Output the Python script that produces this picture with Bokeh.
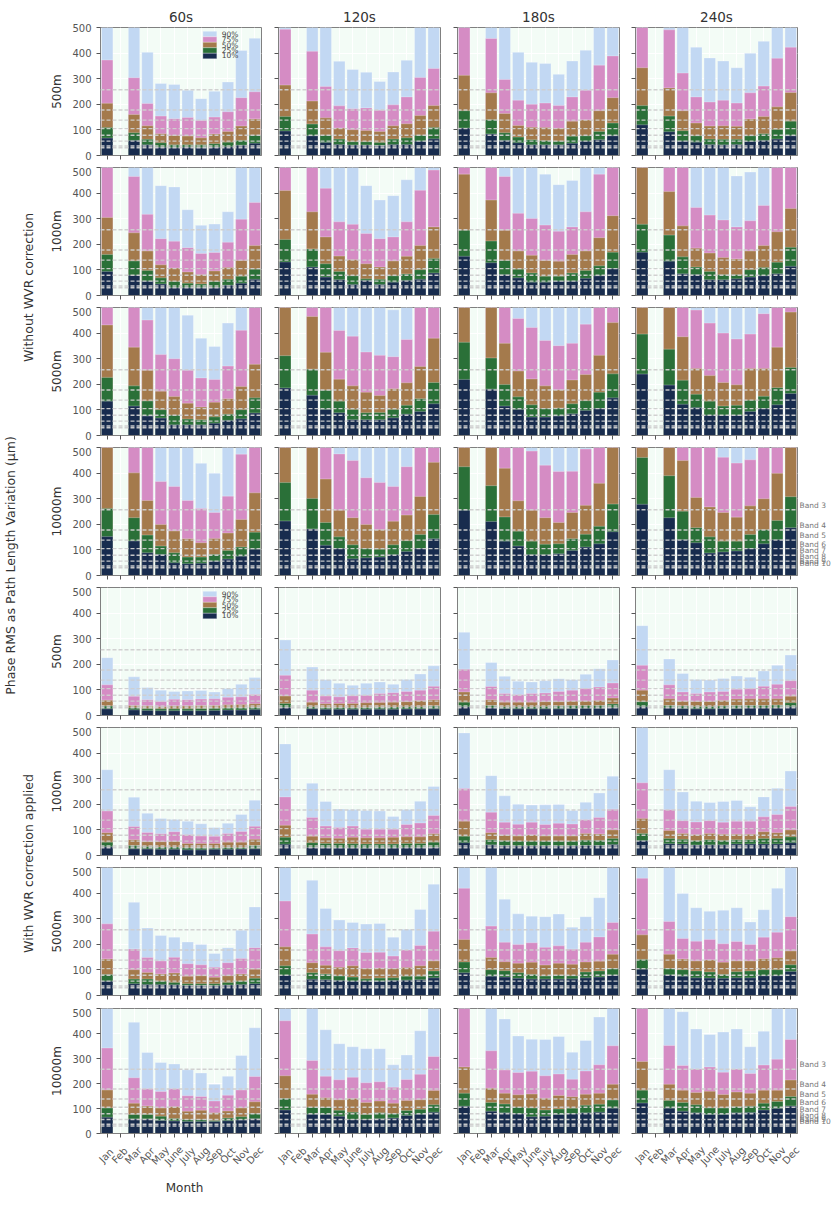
import math

from bokeh.core.properties import value
from bokeh.embed import file_html
from bokeh.layouts import column, row
from bokeh.models import CustomLabelingPolicy, FactorRange, FixedTicker, Label, Range1d, Span
from bokeh.plotting import figure
from bokeh.resources import INLINE

months = ["Jan", "Feb", "Mar", "Apr", "May", "June", "July", "Aug", "Sep", "Oct", "Nov", "Dec"]
percentiles = ["90%", "75%", "50%", "25%", "10%"]
band_names = ["Band 3", "Band 4", "Band 5", "Band 6", "Band 7", "Band 8", "Band 9", "Band 10"]
band_limits = [257, 178, 138, 105, 79, 56, 37, 30]
y_ticks = [0, 100, 200, 300, 400, 500]
integrations = ["60s", "120s", "180s", "240s"]
baselines = ["500m", "1000m", "5000m", "10000m"]

# each panel: 90, 75, 50, 25, 10 percentile per month, no data in Feb, 530 = off the top of the axis
raw_500_60 = [
    [530, 0, 530, 403, 281, 277, 255, 222, 251, 287, 410, 458],
    [373, 0, 304, 203, 154, 144, 148, 137, 150, 171, 226, 249],
    [204, 0, 160, 116, 85, 78, 76, 69, 84, 94, 115, 143],
    [109, 0, 89, 63, 50, 42, 42, 42, 46, 52, 59, 79],
    [68, 0, 59, 42, 32, 30, 32, 30, 32, 34, 40, 48],
]
raw_500_120 = [
    [530, 0, 530, 530, 368, 336, 325, 289, 326, 372, 530, 530],
    [493, 0, 407, 270, 194, 183, 186, 177, 198, 229, 305, 340],
    [275, 0, 213, 147, 107, 101, 98, 94, 116, 124, 156, 195],
    [152, 0, 123, 79, 64, 54, 54, 51, 64, 69, 79, 109],
    [96, 0, 77, 51, 43, 41, 41, 39, 43, 43, 56, 65],
]
raw_500_180 = [
    [530, 0, 530, 530, 403, 364, 359, 317, 369, 411, 530, 530],
    [530, 0, 457, 297, 216, 200, 205, 195, 229, 255, 353, 389],
    [313, 0, 245, 164, 117, 110, 109, 106, 134, 139, 175, 226],
    [175, 0, 140, 89, 72, 62, 58, 56, 75, 77, 94, 127],
    [107, 0, 84, 59, 50, 42, 42, 42, 48, 56, 62, 77],
]
raw_500_240 = [
    [530, 0, 510, 530, 423, 381, 369, 343, 399, 446, 530, 530],
    [530, 0, 491, 322, 229, 209, 216, 205, 245, 271, 380, 423],
    [343, 0, 264, 175, 127, 115, 116, 114, 143, 152, 190, 246],
    [195, 0, 154, 97, 77, 64, 63, 63, 77, 85, 102, 134],
    [120, 0, 93, 56, 52, 43, 42, 43, 55, 59, 64, 77],
]
raw_1000_60 = [
    [530, 0, 530, 530, 429, 424, 335, 274, 279, 327, 530, 530],
    [530, 0, 465, 317, 222, 212, 187, 164, 168, 208, 298, 363],
    [305, 0, 245, 174, 120, 107, 92, 81, 96, 109, 137, 195],
    [160, 0, 135, 98, 69, 55, 48, 45, 55, 63, 75, 103],
    [94, 0, 79, 56, 45, 30, 30, 30, 30, 40, 48, 63],
]
raw_1000_120 = [
    [530, 0, 530, 530, 530, 530, 429, 373, 390, 452, 530, 530],
    [530, 0, 530, 419, 288, 278, 242, 222, 229, 288, 411, 490],
    [410, 0, 327, 229, 154, 140, 124, 111, 135, 153, 195, 268],
    [219, 0, 182, 124, 94, 77, 65, 63, 77, 84, 101, 145],
    [131, 0, 111, 72, 62, 43, 59, 43, 52, 59, 63, 88],
]
raw_1000_180 = [
    [530, 0, 530, 530, 530, 530, 474, 433, 449, 530, 530, 530],
    [530, 0, 530, 465, 321, 301, 275, 251, 268, 327, 474, 530],
    [474, 0, 373, 255, 174, 157, 137, 134, 160, 174, 226, 312],
    [255, 0, 213, 137, 103, 88, 75, 75, 88, 98, 116, 169],
    [153, 0, 128, 81, 69, 52, 52, 56, 56, 67, 77, 105],
]
raw_1000_240 = [
    [530, 0, 530, 530, 530, 530, 530, 467, 482, 530, 530, 530],
    [530, 0, 530, 530, 344, 314, 295, 268, 292, 352, 530, 530],
    [530, 0, 406, 272, 185, 166, 148, 143, 174, 195, 249, 340],
    [278, 0, 236, 151, 111, 94, 81, 81, 101, 109, 130, 188],
    [169, 0, 134, 85, 81, 62, 62, 65, 72, 77, 85, 114],
]
raw_5000_60 = [
    [530, 0, 530, 530, 530, 530, 470, 380, 348, 439, 530, 530],
    [530, 0, 530, 451, 316, 300, 255, 225, 219, 271, 411, 530],
    [432, 0, 345, 255, 173, 152, 126, 111, 130, 144, 191, 278],
    [227, 0, 194, 135, 101, 79, 64, 62, 73, 83, 101, 147],
    [134, 0, 115, 76, 68, 42, 42, 42, 48, 59, 65, 88],
]
raw_5000_120 = [
    [530, 0, 530, 530, 530, 530, 530, 530, 491, 530, 530, 530],
    [530, 0, 530, 530, 410, 388, 326, 313, 308, 375, 530, 530],
    [530, 0, 465, 325, 220, 194, 169, 156, 183, 206, 270, 380],
    [312, 0, 259, 177, 134, 102, 89, 90, 102, 118, 144, 207],
    [186, 0, 157, 102, 89, 62, 62, 62, 69, 83, 94, 124],
]
raw_5000_180 = [
    [530, 0, 530, 530, 530, 530, 530, 530, 530, 530, 530, 530],
    [530, 0, 530, 530, 457, 422, 371, 351, 360, 435, 530, 530],
    [530, 0, 530, 360, 252, 221, 194, 178, 217, 238, 313, 441],
    [364, 0, 303, 199, 151, 120, 105, 107, 124, 136, 169, 241],
    [219, 0, 181, 115, 102, 72, 72, 76, 85, 98, 105, 147],
]
raw_5000_240 = [
    [530, 0, 530, 530, 530, 530, 530, 530, 530, 530, 530, 530],
    [530, 0, 530, 530, 490, 439, 400, 377, 396, 476, 530, 530],
    [530, 0, 530, 386, 262, 234, 207, 198, 262, 262, 345, 482],
    [396, 0, 337, 216, 161, 134, 115, 118, 138, 153, 187, 266],
    [240, 0, 197, 122, 109, 79, 79, 79, 94, 105, 120, 164],
]
raw_10000_60 = [
    [530, 0, 530, 530, 530, 530, 530, 438, 399, 530, 530, 530],
    [530, 0, 530, 530, 367, 348, 293, 262, 246, 310, 474, 530],
    [530, 0, 401, 293, 199, 174, 144, 128, 145, 166, 219, 323],
    [262, 0, 226, 158, 115, 89, 72, 72, 82, 98, 111, 169],
    [152, 0, 135, 89, 82, 50, 46, 48, 56, 64, 75, 103],
]
raw_10000_120 = [
    [530, 0, 530, 530, 530, 530, 530, 530, 530, 530, 530, 530],
    [530, 0, 530, 530, 475, 449, 382, 363, 348, 425, 530, 530],
    [530, 0, 530, 377, 255, 226, 199, 179, 212, 236, 309, 442],
    [363, 0, 301, 207, 151, 120, 105, 103, 120, 136, 160, 238],
    [213, 0, 182, 118, 105, 65, 69, 72, 81, 94, 105, 144],
]
raw_10000_180 = [
    [530, 0, 530, 530, 530, 530, 530, 530, 530, 530, 530, 530],
    [530, 0, 530, 530, 530, 486, 431, 406, 407, 494, 530, 530],
    [530, 0, 530, 419, 292, 255, 226, 207, 246, 274, 360, 530],
    [425, 0, 351, 229, 173, 134, 122, 124, 144, 161, 192, 279],
    [255, 0, 211, 134, 115, 81, 81, 85, 98, 111, 124, 171],
]
raw_10000_240 = [
    [530, 0, 530, 530, 530, 530, 530, 530, 530, 530, 530, 530],
    [530, 0, 530, 530, 530, 530, 462, 439, 452, 530, 530, 530],
    [530, 0, 530, 449, 305, 268, 246, 228, 272, 300, 399, 530],
    [461, 0, 390, 251, 187, 151, 134, 134, 160, 179, 215, 308],
    [278, 0, 226, 140, 128, 88, 92, 96, 105, 124, 140, 187],
]
wvr_500_60 = [
    [226, 0, 151, 109, 99, 94, 96, 98, 92, 105, 122, 148],
    [120, 0, 75, 62, 55, 63, 62, 64, 65, 71, 73, 82],
    [60, 0, 39, 37, 34, 37, 37, 39, 39, 42, 43, 46],
    [37, 0, 30, 27, 26, 26, 26, 27, 28, 29, 30, 32],
    [26, 0, 22, 20, 19, 19, 19, 19, 20, 21, 21, 23],
]
wvr_500_120 = [
    [295, 0, 189, 140, 126, 118, 126, 131, 122, 141, 162, 194],
    [157, 0, 99, 76, 73, 77, 79, 86, 89, 94, 99, 114],
    [76, 0, 52, 46, 47, 47, 50, 51, 52, 54, 58, 62],
    [47, 0, 34, 31, 31, 30, 31, 33, 33, 34, 34, 37],
    [31, 0, 26, 24, 24, 24, 24, 24, 24, 25, 25, 26],
]
wvr_500_180 = [
    [325, 0, 207, 153, 134, 131, 136, 144, 140, 161, 183, 217],
    [181, 0, 113, 86, 81, 86, 88, 94, 99, 105, 111, 127],
    [92, 0, 62, 52, 52, 52, 54, 54, 56, 56, 59, 68],
    [52, 0, 39, 34, 34, 34, 35, 37, 38, 39, 39, 45],
    [34, 0, 29, 27, 26, 26, 26, 26, 27, 28, 28, 30],
]
wvr_500_240 = [
    [351, 0, 221, 164, 141, 139, 145, 154, 149, 174, 196, 236],
    [196, 0, 120, 92, 86, 92, 94, 103, 105, 114, 122, 136],
    [99, 0, 65, 56, 55, 55, 59, 64, 65, 65, 65, 75],
    [54, 0, 39, 37, 35, 35, 37, 39, 39, 39, 41, 50],
    [34, 0, 29, 27, 26, 26, 27, 27, 29, 29, 29, 34],
]
wvr_1000_60 = [
    [335, 0, 228, 165, 145, 141, 134, 124, 109, 126, 160, 216],
    [174, 0, 113, 90, 85, 93, 81, 76, 75, 86, 94, 114],
    [89, 0, 62, 54, 54, 55, 47, 47, 47, 52, 52, 63],
    [52, 0, 39, 35, 33, 33, 30, 29, 29, 31, 31, 39],
    [34, 0, 26, 25, 24, 24, 22, 22, 24, 24, 25, 26],
]
wvr_1000_120 = [
    [436, 0, 282, 211, 182, 180, 176, 174, 152, 180, 212, 270],
    [229, 0, 148, 115, 109, 115, 103, 103, 103, 121, 127, 156],
    [118, 0, 75, 69, 67, 71, 69, 69, 71, 73, 73, 85],
    [71, 0, 50, 47, 47, 46, 45, 45, 45, 47, 47, 52],
    [44, 0, 31, 30, 29, 29, 28, 28, 29, 30, 30, 31],
]
wvr_1000_180 = [
    [479, 0, 312, 233, 200, 197, 198, 199, 176, 208, 244, 310],
    [262, 0, 169, 130, 122, 130, 121, 126, 123, 140, 148, 181],
    [134, 0, 89, 79, 76, 80, 76, 76, 76, 86, 84, 100],
    [75, 0, 62, 58, 56, 56, 56, 56, 56, 60, 59, 66],
    [50, 0, 42, 38, 37, 37, 37, 37, 37, 39, 39, 43],
]
wvr_1000_240 = [
    [530, 0, 335, 248, 212, 207, 211, 215, 190, 229, 263, 330],
    [284, 0, 179, 136, 131, 136, 130, 134, 134, 151, 160, 191],
    [145, 0, 98, 86, 81, 86, 83, 83, 83, 93, 89, 100],
    [86, 0, 66, 63, 58, 62, 59, 62, 62, 66, 66, 73],
    [58, 0, 46, 45, 41, 42, 42, 45, 45, 45, 45, 50],
]
wvr_5000_60 = [
    [530, 0, 364, 264, 234, 228, 209, 199, 164, 187, 255, 346],
    [280, 0, 182, 148, 135, 149, 124, 120, 110, 128, 145, 187],
    [143, 0, 101, 90, 84, 88, 75, 77, 71, 77, 84, 103],
    [82, 0, 64, 64, 56, 51, 46, 46, 46, 51, 56, 67],
    [56, 0, 46, 43, 43, 42, 39, 39, 38, 41, 43, 46],
]
wvr_5000_120 = [
    [530, 0, 450, 340, 295, 285, 279, 281, 228, 259, 336, 435],
    [369, 0, 240, 190, 175, 186, 168, 169, 154, 178, 195, 251],
    [190, 0, 128, 118, 110, 116, 105, 107, 105, 109, 116, 135],
    [116, 0, 89, 84, 76, 72, 65, 68, 69, 75, 75, 96],
    [79, 0, 63, 62, 59, 56, 56, 56, 59, 60, 62, 69],
]
wvr_5000_180 = [
    [530, 0, 530, 376, 319, 310, 308, 318, 267, 308, 382, 530],
    [419, 0, 271, 208, 199, 206, 188, 194, 181, 208, 229, 285],
    [219, 0, 148, 132, 126, 130, 119, 126, 122, 131, 134, 161],
    [131, 0, 101, 97, 89, 82, 76, 79, 77, 92, 96, 105],
    [89, 0, 75, 72, 67, 64, 64, 64, 65, 69, 72, 79],
]
wvr_5000_240 = [
    [530, 0, 530, 398, 343, 329, 333, 343, 287, 335, 419, 530],
    [458, 0, 289, 223, 212, 219, 202, 211, 199, 228, 247, 308],
    [237, 0, 161, 143, 135, 139, 130, 135, 135, 144, 147, 174],
    [141, 0, 105, 101, 96, 92, 82, 93, 96, 101, 101, 120],
    [103, 0, 80, 75, 69, 68, 67, 69, 69, 77, 77, 94],
]
wvr_10000_60 = [
    [530, 0, 445, 324, 284, 278, 255, 242, 197, 229, 312, 423],
    [342, 0, 223, 179, 168, 179, 151, 148, 130, 153, 174, 228],
    [174, 0, 121, 110, 102, 107, 89, 93, 83, 90, 102, 127],
    [102, 0, 76, 76, 69, 60, 56, 56, 52, 62, 67, 79],
    [65, 0, 58, 58, 52, 50, 48, 48, 48, 51, 54, 59],
]
wvr_10000_120 = [
    [530, 0, 530, 415, 359, 347, 339, 339, 275, 314, 411, 530],
    [451, 0, 292, 229, 215, 225, 203, 207, 185, 216, 237, 308],
    [231, 0, 157, 143, 135, 140, 124, 130, 121, 132, 135, 172],
    [140, 0, 105, 104, 93, 85, 76, 83, 79, 92, 97, 115],
    [94, 0, 77, 76, 69, 56, 56, 59, 62, 72, 77, 85],
]
wvr_10000_180 = [
    [530, 0, 530, 458, 390, 377, 376, 388, 325, 372, 466, 530],
    [530, 0, 331, 254, 244, 249, 231, 238, 217, 250, 275, 351],
    [266, 0, 181, 161, 155, 158, 141, 152, 147, 157, 161, 197],
    [161, 0, 124, 118, 105, 102, 94, 98, 101, 113, 117, 134],
    [109, 0, 89, 83, 79, 67, 69, 76, 79, 83, 85, 101],
]
wvr_10000_240 = [
    [530, 0, 530, 487, 418, 396, 406, 418, 347, 409, 530, 530],
    [530, 0, 352, 272, 258, 266, 245, 258, 240, 274, 297, 376],
    [288, 0, 197, 173, 164, 169, 156, 166, 161, 173, 173, 214],
    [173, 0, 132, 124, 115, 102, 102, 107, 109, 121, 128, 148],
    [122, 0, 101, 89, 83, 76, 76, 83, 84, 94, 100, 110],
]

panel_rows = [
    [raw_500_60, raw_500_120, raw_500_180, raw_500_240],
    [raw_1000_60, raw_1000_120, raw_1000_180, raw_1000_240],
    [raw_5000_60, raw_5000_120, raw_5000_180, raw_5000_240],
    [raw_10000_60, raw_10000_120, raw_10000_180, raw_10000_240],
    [wvr_500_60, wvr_500_120, wvr_500_180, wvr_500_240],
    [wvr_1000_60, wvr_1000_120, wvr_1000_180, wvr_1000_240],
    [wvr_5000_60, wvr_5000_120, wvr_5000_180, wvr_5000_240],
    [wvr_10000_60, wvr_10000_120, wvr_10000_180, wvr_10000_240],
]

colors = ["#c2d8f3", "#d58cc4", "#a47a4c", "#2a7038", "#182c4e"]
FRAME_W = 162
FRAME_H = 128
FONT = "DejaVu Sans"
# left, right border of the four columns, bottom border of the eight rows
col_left = [52, 9, 9, 9]
col_right = [8, 8, 7, 2]
row_bottom = [12, 12, 12, 12, 12, 12, 13, 5]


def hide_labels(axis):
    axis.major_label_policy = CustomLabelingPolicy(code="return []")
    axis.major_label_text_font_size = "1px"
    axis.major_label_standoff = 0


def plain_strip(**kw):
    # axis-less figure, just holds texts that fall outside the panels
    s = figure(min_border=0, outline_line_color=None, output_backend="svg", toolbar_location=None, tools="", **kw)
    s.axis.visible = False
    s.grid.visible = False
    return s


def make_panel(data, r, c):
    top_border = 27 if r == 0 else 0
    p = figure(
        width=col_left[c] + FRAME_W + col_right[c],
        height=top_border + FRAME_H + row_bottom[r],
        x_range=FactorRange(*months, factor_padding=0, range_padding=0),
        y_range=Range1d(0, 500),
        min_border_left=col_left[c],
        min_border_right=col_right[c],
        min_border_top=top_border,
        min_border_bottom=row_bottom[r],
        background_fill_color="#f3fcf6",
        outline_line_color="#808080",
        output_backend="svg",
        toolbar_location=None,
        tools="",
    )
    if r == 0:
        p.title.text = integrations[c]
        p.title.text_font = FONT
        p.title.text_font_size = "13.5px"
        p.title.text_font_style = "normal"
        p.title.text_color = "#333333"
        p.title.align = "center"
        p.title.standoff = 6

    for vals, col in zip(data, colors):
        p.vbar(x=months, top=vals, width=0.85, fill_color=col,
               line_color="white", line_alpha=0.35, line_width=0.8)

    for lim in band_limits:
        p.add_layout(Span(location=lim, dimension="width", line_color="#cfcfcf",
                          line_dash="4 2", line_width=1.4, line_alpha=0.95))

    p.grid.grid_line_color = "white"
    p.grid.grid_line_width = 1
    p.yaxis.ticker = FixedTicker(ticks=y_ticks)
    p.yaxis.minor_tick_line_color = None
    for ax in [p.xaxis[0], p.yaxis[0]]:
        ax.axis_line_color = "#808080"
        ax.major_tick_line_color = "#555555"
        ax.major_tick_in = 0
        ax.major_tick_out = 4
        ax.major_label_text_font = FONT
        ax.major_label_text_font_size = "10px"
        ax.major_label_text_color = "#555555"
        ax.axis_label_text_font = FONT
        ax.axis_label_text_font_size = "12px"
        ax.axis_label_text_font_style = "normal"
        ax.axis_label_text_color = "#333333"

    if c == 0:
        p.yaxis.axis_label = baselines[r % 4]
        p.yaxis.axis_label_standoff = 5
        p.yaxis.major_label_standoff = 5
    else:
        hide_labels(p.yaxis[0])
    hide_labels(p.xaxis[0])

    if c == 0 and r % 4 == 0:
        for i, (lab, col) in enumerate(zip(percentiles, colors)):
            # legend swatches, 5.4 px apart, labels overlap like in the original
            p.quad(left=7.63, right=8.67, top=485 - i * 21.4, bottom=485 - (i + 1) * 21.4, fill_color=col,
                   line_color="white", line_alpha=0.35, line_width=0.8)
            p.add_layout(Label(x=9.04, y=485 - (i + 0.5) * 21.4, text=lab, text_baseline="middle",
                               text_font=FONT, text_font_size="7.5px", text_color="#444444"))
    return p


def make_band_strip(r):
    s = plain_strip(width=33, height=FRAME_H + row_bottom[r], min_border_bottom=row_bottom[r],
                    x_range=Range1d(0, 33), y_range=Range1d(0, 500))
    s.text(x=[0] * len(band_limits), y=band_limits, text=band_names, text_font=value(FONT),
           text_font_size="7.5px", text_color="#777777", text_baseline="bottom")
    return s


def make_month_strip(c):
    # no frame border here, the range runs on past the months so the rotated texts are not cut
    right = col_right[c] + (33 if c == 3 else 0)
    step = FRAME_W / len(months)
    s = plain_strip(width=col_left[c] + FRAME_W + right, height=57,
                    x_range=Range1d(-col_left[c] / step, len(months) + right / step),
                    y_range=Range1d(57, 0))
    s.text(x=[i + 0.5 for i in range(len(months))], y=[14] * len(months), text=months, angle=0.82,
           text_align="center", text_baseline="middle",
           text_font=value(FONT), text_font_size="10px", text_color="#555555")
    if c == 0:
        s.add_layout(Label(x=6.3, y=46, text="Month", text_align="center", text_baseline="middle",
                           text_font=FONT, text_font_size="12px", text_color="#333333"))
    return s


strip = plain_strip(width=47, height=1198, x_range=Range1d(1, 48), y_range=Range1d(1199, 1))
for txt, lx, ly in [
    ("Phase RMS as Path Length Variation (\u03bcm)", 11, 566),
    ("Without WVR correction", 29, 288),
    ("With WVR correction applied", 29, 864),
]:
    strip.add_layout(Label(x=lx, y=ly, text=txt, angle=math.pi / 2, text_align="center",
                           text_baseline="middle", text_font=FONT, text_font_size="12.5px",
                           text_color="#333333"))

rows = []
for r, line in enumerate(panel_rows):
    cells = [make_panel(d, r, c) for c, d in enumerate(line)]
    if r % 4 == 3:
        cells.append(make_band_strip(r))
    rows.append(row(*cells, spacing=0))
rows.append(row(*[make_month_strip(c) for c in range(4)], spacing=0))

layout = row(strip, column(*rows, spacing=0), spacing=0)

open("out.html", "w").write(file_html(layout, INLINE))
